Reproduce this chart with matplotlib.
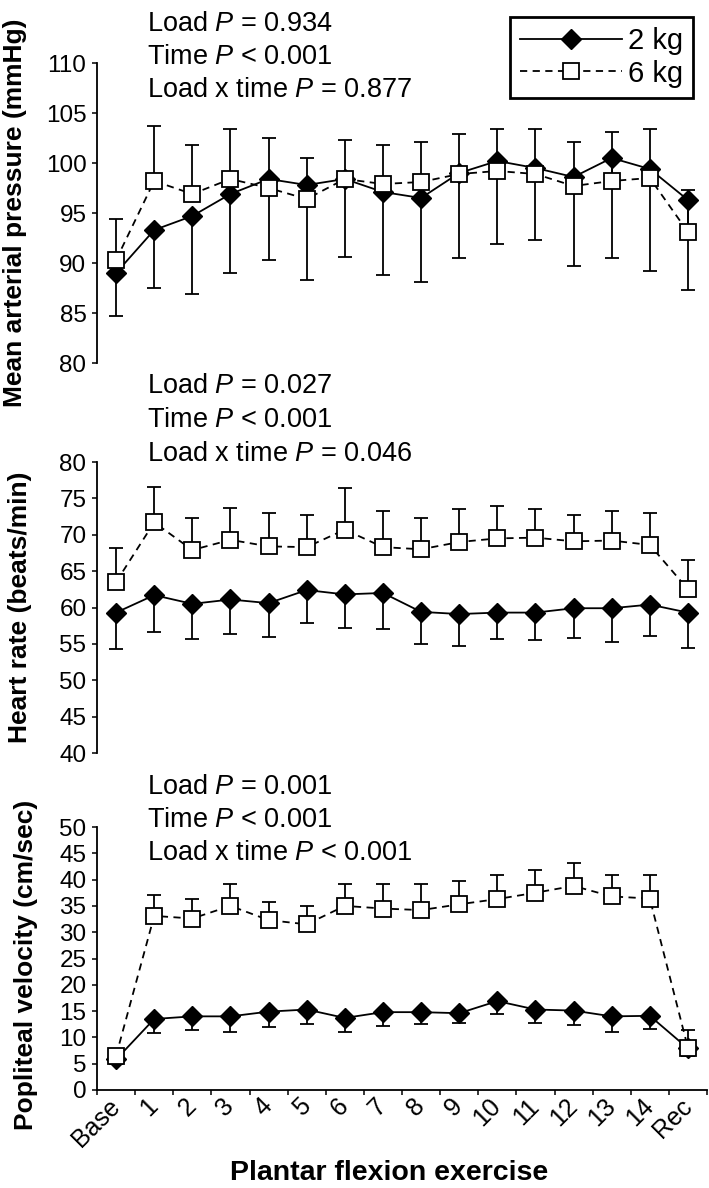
import numpy as np
import matplotlib
matplotlib.use('Agg')
from matplotlib import pyplot as plt

plt.rcParams['font.family'] = ['Liberation Sans', 'DejaVu Sans']
plt.rcParams['mathtext.fontset'] = 'custom'
plt.rcParams['mathtext.rm'] = 'Liberation Sans'
plt.rcParams['mathtext.it'] = 'Liberation Sans:italic'

### Data ###
stages = ['Base', '1', '2', '3', '4', '5', '6', '7', '8', '9', '10', '11', '12', '13', '14', 'Rec']

# Mean arterial pressure (mmHg)
map_2kg = [89.0, 93.3, 94.7, 96.9, 98.4, 97.8, 98.4, 97.1, 96.5, 99.0, 100.2, 99.5, 98.6, 100.5, 99.4, 96.3]
map_2kg_sd = [4.3, 5.8, 7.8, 7.9, 8.1, 9.5, 7.8, 8.3, 8.4, 8.5, 8.3, 7.2, 8.9, 10.0, 10.2, 9.0]
map_6kg = [90.3, 98.2, 96.9, 98.4, 97.5, 96.4, 98.4, 97.9, 98.1, 98.9, 99.2, 98.9, 97.7, 98.2, 98.5, 93.1]
map_6kg_sd = [4.1, 5.5, 4.9, 5.0, 5.0, 4.1, 3.9, 3.9, 4.0, 4.0, 4.2, 4.5, 4.4, 4.9, 4.9, 4.2]

# Heart rate (beats/min)
hr_2kg = [59.3, 61.7, 60.5, 61.1, 60.6, 62.4, 61.8, 62.0, 59.4, 59.1, 59.3, 59.3, 59.9, 59.9, 60.4, 59.3]
hr_2kg_sd = [5.0, 5.0, 4.8, 4.8, 4.6, 4.5, 4.6, 4.9, 4.4, 4.4, 3.6, 3.8, 4.1, 4.6, 4.3, 4.8]
hr_6kg = [63.5, 71.7, 67.9, 69.3, 68.4, 68.3, 70.7, 68.3, 68.0, 69.0, 69.5, 69.6, 69.1, 69.2, 68.6, 62.5]
hr_6kg_sd = [4.7, 4.9, 4.4, 4.4, 4.6, 4.4, 5.7, 5.0, 4.3, 4.5, 4.5, 3.9, 3.6, 4.1, 4.4, 4.0]

# Popliteal velocity (cm/sec)
pv_2kg = [5.8, 13.5, 14.0, 14.0, 14.9, 15.3, 13.7, 14.8, 14.8, 14.6, 16.9, 15.3, 15.1, 14.0, 14.1, 7.9]
pv_2kg_sd = [0.9, 2.6, 2.5, 2.9, 2.9, 2.7, 2.6, 2.6, 2.2, 1.8, 2.5, 2.5, 2.8, 2.9, 2.5, 1.4]
pv_6kg = [6.5, 33.1, 32.6, 35.0, 32.3, 31.5, 35.0, 34.5, 34.2, 35.3, 36.3, 37.5, 38.8, 36.8, 36.4, 8.0]
pv_6kg_sd = [1.0, 3.9, 3.7, 4.1, 3.5, 3.4, 4.1, 4.6, 4.9, 4.4, 4.5, 4.4, 4.4, 4.0, 4.4, 3.4]

map_stats = [r'Load $P$ = 0.934', r'Time $P$ < 0.001', r'Load x time $P$ = 0.877']
hr_stats = [r'Load $P$ = 0.027', r'Time $P$ < 0.001', r'Load x time $P$ = 0.046']
pv_stats = [r'Load $P$ = 0.001', r'Time $P$ < 0.001', r'Load x time $P$ < 0.001']

### Layout (pixels of the 709x1188 picture) ###
W, H = 709, 1188
fig = plt.figure(figsize=(W / 100, H / 100), dpi=100)

def fx(px):
    return px / W

def fy(py):
    return 1 - py / H

x = np.arange(len(stages))
zeros = np.zeros(len(stages))

# (top px, bottom px, ylim, ystep, ylabel, label x px, label y frac, data, stats, baselines)
panels = [
    (63, 363, (80, 110), 5, 'Mean arterial pressure (mmHg)', 27.5, 0.5,
     (map_2kg, map_2kg_sd, map_6kg, map_6kg_sd), map_stats, (31, 64, 97)),
    (462, 753, (40, 80), 5, 'Heart rate (beats/min)', 32.5, 0.5,
     (hr_2kg, hr_2kg_sd, hr_6kg, hr_6kg_sd), hr_stats, (393, 427, 461)),
    (827, 1090, (0, 50), 5, 'Popliteal velocity (cm/sec)', 38.5, 0.475,
     (pv_2kg, pv_2kg_sd, pv_6kg, pv_6kg_sd), pv_stats, (794, 827, 860)),
]

ax_left = fx(97)
ax_width = 610 / W
lw = 1.3

for ii, (top, bot, ylim, ystep, ylabel, lab_x, lab_y, data, stats, baselines) in enumerate(panels):
    ax = fig.add_axes([ax_left, fy(bot), ax_width, (bot - top) / H])
    ax.patch.set_alpha(0)
    y2, sd2, y6, sd6 = data

    # 2 kg: error bars downwards, 6 kg: error bars upwards
    ax.errorbar(x, y2, yerr=[sd2, zeros], fmt='none', ecolor='black',
                elinewidth=lw, capsize=5, capthick=lw, zorder=2)
    l2, = ax.plot(x, y2, '-', color='black', lw=lw, marker='D', ms=10.5,
                  mfc='black', mec='black', zorder=3)
    ax.errorbar(x, y6, yerr=[zeros, sd6], fmt='none', ecolor='black',
                elinewidth=lw, capsize=5, capthick=lw, zorder=4)
    l6, = ax.plot(x, y6, color='black', lw=lw, ls=(0, (4, 3)), marker='s', ms=11,
                  mfc='white', mec='black', mew=1.3, zorder=5)

    ax.set_xlim(-0.5, 15.5)
    ax.set_ylim(*ylim)
    ax.set_yticks(np.arange(ylim[0], ylim[1] + 0.1, ystep))
    ax.tick_params(axis='y', direction='out', length=3.6, width=1.1, pad=4, labelsize=17.5)
    for s in ['top', 'right']:
        ax.spines[s].set_visible(False)
    ax.spines['left'].set_linewidth(1.3)

    if ii < 2:
        ax.spines['bottom'].set_visible(False)
        ax.set_xticks([])
    else:
        ax.spines['bottom'].set_linewidth(1.3)
        ax.set_xticks(x)
        ax.set_xticklabels(stages, rotation=45, ha='right', va='center',
                           rotation_mode='anchor', fontsize=18)
        ax.set_xticks(np.arange(-0.5, 16, 1), minor=True)
        ax.tick_params(axis='x', which='major', length=0, pad=9)
        ax.tick_params(axis='x', which='minor', direction='out', length=3.6, width=1.1)

    ax.set_ylabel(ylabel, fontsize=19, fontweight='bold')
    ax.yaxis.set_label_coords((lab_x - 97) / 610, lab_y)

    for txt, bl in zip(stats, baselines):
        fig.text(fx(147), fy(bl), txt, fontsize=19.5, ha='left', va='baseline')

fig.text(fx(389), fy(1180), 'Plantar flexion exercise', fontsize=20.5,
         fontweight='bold', ha='center', va='baseline')

leg = fig.legend([l2, l6], ['2 kg', '6 kg'], loc='upper right',
                 bbox_to_anchor=(fx(693), fy(17)), bbox_transform=fig.transFigure,
                 fontsize=21, frameon=True, fancybox=False, framealpha=1,
                 edgecolor='black', borderaxespad=0, borderpad=0.35,
                 handlelength=3.5, handletextpad=0.2, labelspacing=0.15)
leg.get_frame().set_linewidth(2)

fig.savefig('out.png', dpi=100)
